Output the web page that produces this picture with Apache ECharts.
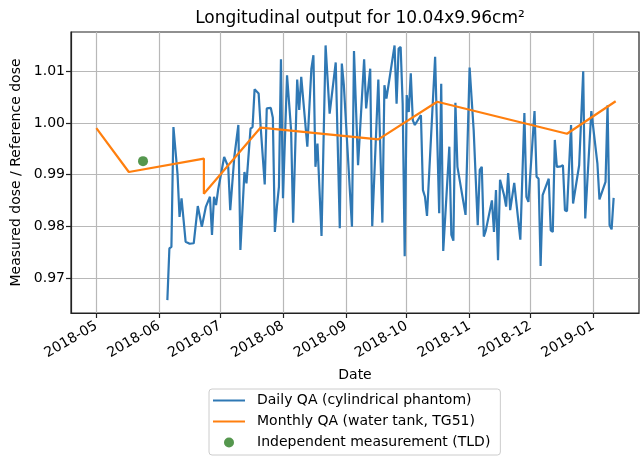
<!DOCTYPE html>
<html lang="en">

<head>
	<meta charset="UTF-8">
	<title>Longitudinal output</title>
	<script src="https://cdn.jsdelivr.net/npm/echarts@6/dist/echarts.min.js"></script>
	<style>
		html, body { margin: 0; padding: 0; background: #fff; }
		#main { width: 640px; height: 458px; }
	</style>
</head>

<body>
	<div id="main"></div>

	<script>
		// daily QA readings (cylindrical phantom)
		const dailyDates = [
			'2018-06-05', '2018-06-06', '2018-06-07', '2018-06-08', '2018-06-10', '2018-06-11', '2018-06-12', '2018-06-13',
			'2018-06-14', '2018-06-16', '2018-06-18', '2018-06-20', '2018-06-22', '2018-06-24', '2018-06-26', '2018-06-27',
			'2018-06-28', '2018-06-29', '2018-06-30', '2018-07-03', '2018-07-05', '2018-07-06', '2018-07-08', '2018-07-10',
			'2018-07-11', '2018-07-13', '2018-07-14', '2018-07-16', '2018-07-17', '2018-07-18', '2018-07-20', '2018-07-21',
			'2018-07-23', '2018-07-24', '2018-07-26', '2018-07-27', '2018-07-28', '2018-07-29', '2018-07-30', '2018-07-31',
			'2018-08-01', '2018-08-03', '2018-08-05', '2018-08-06', '2018-08-08', '2018-08-09', '2018-08-10', '2018-08-13',
			'2018-08-15', '2018-08-16', '2018-08-17', '2018-08-18', '2018-08-20', '2018-08-22', '2018-08-24', '2018-08-27',
			'2018-08-29', '2018-08-30', '2018-08-31', '2018-09-04', '2018-09-05', '2018-09-07', '2018-09-10', '2018-09-11',
			'2018-09-13', '2018-09-14', '2018-09-17', '2018-09-19', '2018-09-20', '2018-09-21', '2018-09-25', '2018-09-26',
			'2018-09-27', '2018-09-28', '2018-09-29', '2018-09-30', '2018-10-01', '2018-10-02', '2018-10-03', '2018-10-04',
			'2018-10-05', '2018-10-08', '2018-10-09', '2018-10-10', '2018-10-11', '2018-10-15', '2018-10-17', '2018-10-18',
			'2018-10-19', '2018-10-22', '2018-10-23', '2018-10-24', '2018-10-25', '2018-10-26', '2018-10-30', '2018-11-01',
			'2018-11-03', '2018-11-05', '2018-11-06', '2018-11-07', '2018-11-08', '2018-11-09', '2018-11-12', '2018-11-13',
			'2018-11-14', '2018-11-15', '2018-11-16', '2018-11-18', '2018-11-19', '2018-11-20', '2018-11-21', '2018-11-23',
			'2018-11-26', '2018-11-28', '2018-11-29', '2018-11-30', '2018-12-03', '2018-12-04', '2018-12-05', '2018-12-06',
			'2018-12-07', '2018-12-10', '2018-12-11', '2018-12-12', '2018-12-13', '2018-12-14', '2018-12-16', '2018-12-17',
			'2018-12-18', '2018-12-19', '2018-12-21', '2018-12-22', '2018-12-25', '2018-12-27', '2018-12-28', '2018-12-31',
			'2019-01-03', '2019-01-04', '2019-01-07', '2019-01-08', '2019-01-09', '2019-01-10', '2019-01-11'
		];
		const dailyValues = [
			0.9657, 0.9757, 0.9760, 0.9992, 0.9902, 0.9818, 0.9854, 0.9812,
			0.9770, 0.9766, 0.9767, 0.9839, 0.9799, 0.9838, 0.9857, 0.9783,
			0.9857, 0.9841, 0.9870, 0.9934, 0.9915, 0.9831, 0.9934, 0.9996,
			0.9754, 0.9905, 0.9883, 0.9989, 0.9992, 1.0065, 1.0057, 0.9992,
			0.9881, 1.0028, 1.0029, 1.0010, 0.9789, 0.9838, 0.9876, 1.0123,
			0.9854, 1.0092, 0.9986, 0.9807, 1.0084, 1.0025, 1.0089, 0.9954,
			1.0105, 1.0131, 0.9915, 0.9960, 0.9781, 1.0150, 1.0018, 1.0117,
			0.9796, 1.0115, 1.0073, 0.9799, 1.0139, 0.9918, 1.0123, 1.0028,
			1.0105, 0.9800, 1.0084, 0.9807, 1.0073, 1.0047, 1.0150, 1.0037,
			1.0144, 1.0147, 1.0037, 0.9742, 1.0054, 1.0021, 1.0096, 1.0005,
			0.9996, 1.0015, 0.9870, 0.9857, 0.9820, 1.0128, 0.9825, 1.0076,
			0.9752, 0.9954, 0.9783, 0.9772, 1.0039, 0.9915, 0.9822, 1.0107,
			0.9986, 0.9802, 0.9909, 0.9915, 0.9780, 0.9792, 0.9850, 0.9789,
			0.9870, 0.9734, 0.9890, 0.9860, 0.9838, 0.9903, 0.9831, 0.9884,
			0.9774, 1.0019, 0.9857, 0.9847, 1.0023, 0.9896, 0.9892, 0.9723,
			0.9860, 0.9892, 0.9792, 0.9789, 0.9967, 0.9915, 0.9916, 0.9918,
			0.9831, 0.9829, 0.9996, 0.9844, 0.9918, 1.0100, 0.9815, 1.0023,
			0.9921, 0.9852, 0.9886, 1.0034, 0.9802, 0.9794, 0.9855
		];

		// monthly QA (water tank, TG51)
		const monthlyDates = ['2018-05-01', '2018-05-17', '2018-06-23', '2018-06-23', '2018-07-21', '2018-09-17', '2018-10-16', '2018-12-19', '2019-01-12'];
		const monthlyValues = [0.9990, 0.9905, 0.9931, 0.9863, 0.9991, 0.9968, 1.0041, 0.9979, 1.0042];

		// independent measurement (TLD)
		const tldDates = ['2018-05-24'];
		const tldValues = [0.9926];

		const xTicks = ['2018-05-01', '2018-06-01', '2018-07-01', '2018-08-01', '2018-09-01', '2018-10-01', '2018-11-01', '2018-12-01', '2019-01-01'];
		const yTicks = [0.97, 0.98, 0.99, 1.00, 1.01];

		const FONT = 'DejaVu Sans';
		const LINE_ICON = 'path://M0,0H32V2H0Z';

		// dates go on a plain value axis as milliseconds
		function ms(d) {
			return +echarts.time.parse(d);
		}

		function pairs(dates, values) {
			return dates.map((d, i) => [ms(d), values[i]]);
		}

		const xTickTimes = xTicks.map(ms);

		const myChart = echarts.init(document.getElementById('main'), null, { renderer: 'canvas' });

		const option = {
			animation: false,
			backgroundColor: '#fff',
			title: {
				text: 'Longitudinal output for 10.04x9.96cm²',
				left: 355,
				textAlign: 'center',
				top: 5,
				textStyle: { fontFamily: FONT, fontSize: 17, fontWeight: 'normal', color: '#000' }
			},
			grid: {
				left: 71,
				right: 1,
				top: 32,
				bottom: 145,
				show: true,
				borderColor: '#222',
				borderWidth: 1.2,
				containLabel: false
			},
			legend: {
				orient: 'vertical',
				left: 209,
				top: 389,
				padding: [3, 10, 4, 4],
				itemWidth: 32,
				itemHeight: 10,
				itemGap: 4,
				borderColor: '#cccccc',
				borderWidth: 1,
				borderRadius: 3,
				textStyle: { fontFamily: FONT, fontSize: 14, color: '#000', lineHeight: 17, padding: [0, 0, 0, 7] },
				data: [
					{ name: 'Daily QA (cylindrical phantom)', icon: LINE_ICON },
					{ name: 'Monthly QA (water tank, TG51)', icon: LINE_ICON },
					{ name: 'Independent measurement (TLD)', icon: 'circle' }
				]
			},
			xAxis: {
				type: 'value',
				min: ms('2018-04-18 12:00:00'),
				max: ms('2019-01-23 12:00:00'),
				name: 'Date',
				nameLocation: 'middle',
				nameGap: 55,
				nameTextStyle: { fontFamily: FONT, fontSize: 14, color: '#000' },
				axisLine: { show: true, lineStyle: { color: '#222', width: 1.2 } },
				axisTick: { show: true, length: 5, customValues: xTickTimes, lineStyle: { color: '#222', width: 1.2 } },
				axisLabel: {
					customValues: xTickTimes,
					rotate: 30,
					margin: 12,
					fontFamily: FONT,
					fontSize: 14,
					color: '#000',
					formatter: v => echarts.time.format(v, '{yyyy}-{MM}', false)
				},
				splitLine: { show: true, lineStyle: { color: '#b8b8b8', width: 1.2 } }
			},
			yAxis: {
				type: 'value',
				min: 0.9632,
				max: 1.0176,
				name: 'Measured dose / Reference dose',
				nameLocation: 'middle',
				nameRotate: 90,
				nameGap: 48,
				nameTextStyle: { fontFamily: FONT, fontSize: 14, color: '#000' },
				axisLine: { show: true, lineStyle: { color: '#222', width: 1.2 } },
				axisTick: { show: true, length: 5, customValues: yTicks, lineStyle: { color: '#222', width: 1.2 } },
				axisLabel: {
					customValues: yTicks,
					margin: 6,
					fontFamily: FONT,
					fontSize: 14,
					color: '#000',
					formatter: v => v.toFixed(2)
				},
				splitLine: { show: true, lineStyle: { color: '#b8b8b8', width: 1.2 } }
			},
			series: [
				{
					name: 'Daily QA (cylindrical phantom)',
					type: 'line',
					symbol: 'none',
					color: '#2f78b4',
					lineStyle: { width: 2.2, color: '#2f78b4' },
					data: pairs(dailyDates, dailyValues),
					z: 2
				},
				{
					name: 'Monthly QA (water tank, TG51)',
					type: 'line',
					symbol: 'none',
					color: '#ff7f0e',
					lineStyle: { width: 2.2, color: '#ff7f0e' },
					data: pairs(monthlyDates, monthlyValues),
					z: 3
				},
				{
					name: 'Independent measurement (TLD)',
					type: 'scatter',
					symbol: 'circle',
					symbolSize: 10,
					color: '#2a7d22',
					itemStyle: { color: '#2a7d22' },
					data: pairs(tldDates, tldValues),
					z: 4
				}
			]
		};

		myChart.setOption(option);
	</script>
</body>

</html>
